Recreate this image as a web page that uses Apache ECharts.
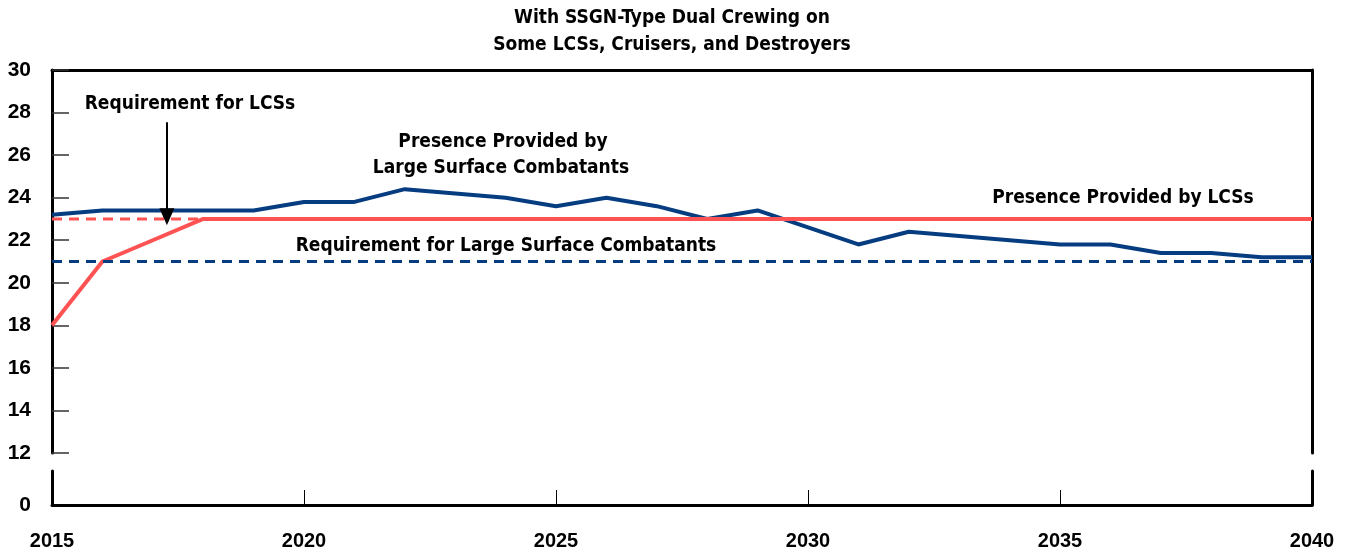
<!DOCTYPE html>
<html>
<head>
<meta charset="utf-8">
<script src="https://cdn.jsdelivr.net/npm/echarts@6/dist/echarts.min.js"></script>
<style>html,body{margin:0;padding:0;background:#fff}#c{width:1349px;height:554px}</style>
</head>
<body>
<div id="c"></div>
<script>
const years = [2015,2016,2017,2018,2019,2020,2021,2022,2023,2024,2025,2026,2027,2028,2029,2030,2031,2032,2033,2034,2035,2036,2037,2038,2039,2040];
const lscPresence = [23.2,23.4,23.4,23.4,23.4,23.8,23.8,24.4,24.2,24.0,23.6,24.0,23.6,23.0,23.4,22.6,21.8,22.4,22.2,22.0,21.8,21.8,21.4,21.4,21.2,21.2];
const lcsPresence = [18,21,22,23,23,23,23,23,23,23,23,23,23,23,23,23,23,23,23,23,23,23,23,23,23,23];
const lcsRequirement = 23;
const lscRequirement = 21;
const yTicksTop = {min:12, max:30, interval:2};
const xTicks = {min:2015, max:2040, interval:5};

const BLUE = '#063c80', RED = '#ff5252';
const FONT = '"DejaVu Sans Condensed", "DejaVu Sans", sans-serif';
const NUMFONT = '"Liberation Sans", Arial, sans-serif';

const chart = echarts.init(document.getElementById('c'));
const pair = (arr) => years.map((y,i)=>[y, arr[i]]);
const flat = (v) => [[years[0], v],[years[years.length-1], v]];

const axisLine = {show:true, lineStyle:{color:'#000', width:3}};
const txt = (x,y,t) => ({type:'text', x:x, y:y, style:{text:t, font:'bold 19px '+FONT, fill:'#000', align:'center', verticalAlign:'middle', textAlign:'center', textVerticalAlign:'middle'}});

chart.setOption({
  animation:false,
  grid:[
    {left:52, right:37, top:70, height:383},
    {left:52, right:37, top:471, height:34}
  ],
  xAxis:[
    {gridIndex:0, type:'value', position:'top', min:xTicks.min, max:xTicks.max, interval:xTicks.interval,
     axisLine:axisLine, axisTick:{show:false}, axisLabel:{show:false}, splitLine:{show:false}},
    {gridIndex:1, type:'value', position:'bottom', min:xTicks.min, max:xTicks.max, interval:xTicks.interval,
     axisLine:axisLine, axisTick:{show:true, inside:true, length:15, lineStyle:{color:'#000', width:1}},
     axisLabel:{margin:26, color:'#000', fontWeight:'bold', fontSize:20, fontFamily:NUMFONT, formatter:v=>String(v)}, splitLine:{show:false}}
  ],
  yAxis:[
    {gridIndex:0, type:'value', position:'left', min:yTicksTop.min, max:yTicksTop.max, interval:yTicksTop.interval,
     axisLine:axisLine, axisTick:{show:true, inside:true, length:17, lineStyle:{color:'#333', width:1.5}},
     axisLabel:{margin:21, color:'#000', fontWeight:'bold', fontSize:21, fontFamily:NUMFONT}, splitLine:{show:false}},
    {gridIndex:0, type:'value', position:'right', min:yTicksTop.min, max:yTicksTop.max, interval:yTicksTop.interval,
     axisLine:axisLine, axisTick:{show:false}, axisLabel:{show:false}, splitLine:{show:false}},
    {gridIndex:1, type:'value', position:'left', min:0, max:10, interval:10,
     axisLine:axisLine, axisTick:{show:false},
     axisLabel:{margin:21, color:'#000', fontWeight:'bold', fontSize:21, fontFamily:NUMFONT, formatter:v=> v===0?'0':''}, splitLine:{show:false}},
    {gridIndex:1, type:'value', position:'right', min:0, max:10,
     axisLine:axisLine, axisTick:{show:false}, axisLabel:{show:false}, splitLine:{show:false}}
  ],
  series:[
    {type:'line', xAxisIndex:0, yAxisIndex:0, data:flat(lcsRequirement), symbol:'none',
     lineStyle:{color:RED, width:3, type:[10,7]}, z:2},
    {type:'line', xAxisIndex:0, yAxisIndex:0, data:pair(lscPresence), symbol:'none',
     lineStyle:{color:BLUE, width:4}, z:3},
    {type:'line', xAxisIndex:0, yAxisIndex:0, data:pair(lcsPresence), symbol:'none',
     lineStyle:{color:RED, width:4}, z:4},
    {type:'line', xAxisIndex:0, yAxisIndex:0, data:flat(lscRequirement), symbol:'none',
     lineStyle:{color:BLUE, width:3, type:[10,7]}, z:5,
     markLine:{silent:true, symbol:['none','triangle'], symbolSize:[15,17],
       lineStyle:{color:'#000', width:2, type:'solid'}, label:{show:false},
       data:[[{coord:[2017.28, 27.55]},{coord:[2017.28, 23.1]}]]}}
  ],
  graphic:[
    txt(672,18,'With SSGN-Type Dual Crewing on'),
    txt(672,45,'Some LCSs, Cruisers, and Destroyers'),
    txt(190,104,'Requirement for LCSs'),
    txt(503,142,'Presence Provided by'),
    txt(501,168,'Large Surface Combatants'),
    txt(1123,198,'Presence Provided by LCSs'),
    txt(506,246,'Requirement for Large Surface Combatants')
  ]
});
</script>
</body>
</html>
